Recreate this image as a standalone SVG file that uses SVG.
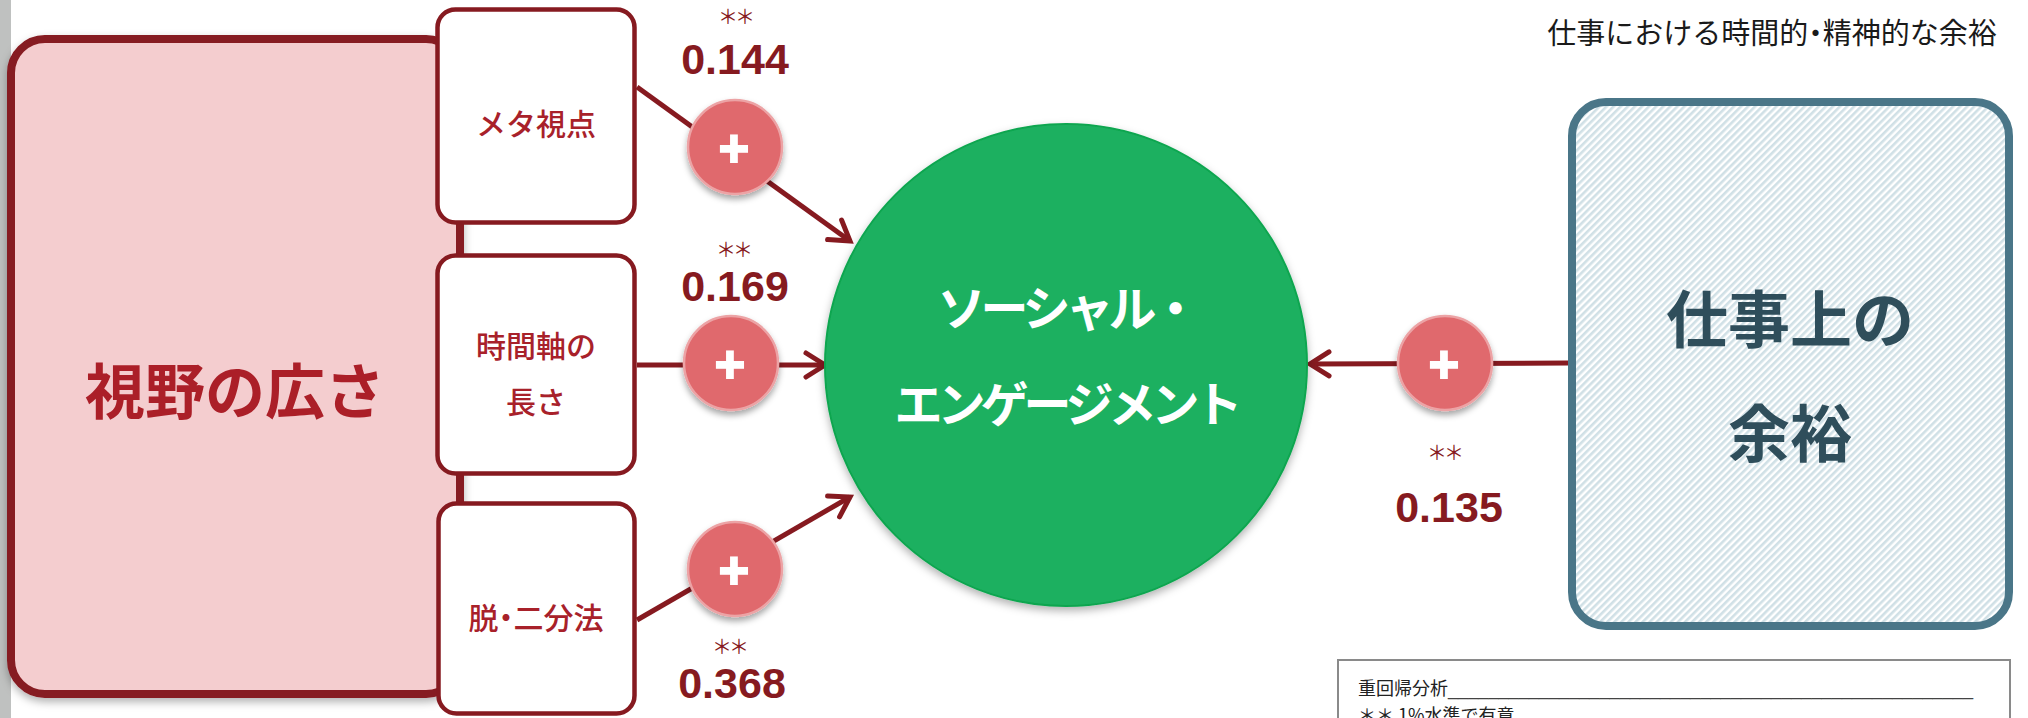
<svg xmlns="http://www.w3.org/2000/svg" width="2028" height="718" viewBox="0 0 2028 718">
<style>
.box{fill:#ffffff;stroke:#861a20;stroke-width:4.5}
.lbl{font-family:"Noto Sans CJK JP","Noto Sans",sans-serif;font-size:30px;font-weight:500;fill:#a8212a;text-anchor:middle}
.num{font-family:"Liberation Sans",Arial,sans-serif;font-weight:700;font-size:43px;fill:#861a20;text-anchor:middle}
.ast{font-family:"Noto Sans CJK JP",sans-serif;font-size:20px;fill:#861a20;text-anchor:middle;letter-spacing:-3px}
.pc{fill:#e0696d;stroke:#eca3a5;stroke-width:2.5}
.pt{font-family:"Liberation Sans",Arial,sans-serif;font-weight:700;font-size:52px;fill:#ffffff;stroke:#ffffff;stroke-width:2;text-anchor:middle}
.conn{stroke:#861a20;stroke-width:5;fill:none}
.big{font-family:"Noto Sans CJK JP",sans-serif;font-weight:700;text-anchor:middle}
.pa{font-feature-settings:"palt" 1}
</style>
<defs>
<marker id="arr" markerUnits="userSpaceOnUse" markerWidth="34" markerHeight="34" viewBox="0 0 34 34" refX="28" refY="17" orient="auto">
<path d="M9,5 L28,17 L9,29" fill="none" stroke="#861a20" stroke-width="5" stroke-linecap="round" stroke-linejoin="miter"/>
</marker>
<filter id="sh" x="-20%" y="-20%" width="140%" height="150%">
<feDropShadow dx="0" dy="4" stdDeviation="3" flood-color="#000" flood-opacity="0.35"/>
</filter>
<filter id="shs" x="-10%" y="-10%" width="120%" height="120%">
<feDropShadow dx="0" dy="4" stdDeviation="4" flood-color="#000" flood-opacity="0.3"/>
</filter>
<pattern id="hatch" patternUnits="userSpaceOnUse" width="5" height="10" patternTransform="rotate(45)">
<rect width="5" height="10" fill="#ffffff"/>
<rect width="2.6" height="10" fill="#d0e0e6"/>
</pattern>
</defs>

<rect x="0" y="0" width="11" height="718" fill="#bfc1c0"/>

<g id="node-shiya">
<rect x="11" y="39" width="449" height="655" rx="34" fill="#f4cdcf" stroke="#861a20" stroke-width="8" filter="url(#shs)"/>
<text class="big" x="235" y="414" font-size="60" fill="#ab1f28">視野の広さ</text>
</g>

<g id="node-meta">
<rect class="box" x="437.5" y="9.5" width="197" height="213" rx="18"/>
<text class="lbl" x="536" y="135">メタ視点</text>
</g>
<g id="node-jikan">
<rect class="box" x="437.5" y="255.5" width="197" height="218" rx="18"/>
<text class="lbl" x="536" y="357">時間軸の</text>
<text class="lbl" x="536" y="413">長さ</text>
</g>
<g id="node-datsu">
<rect class="box" x="438.5" y="503.5" width="196" height="210" rx="18"/>
<text class="lbl" x="536" y="629">脱<tspan class="pa">・</tspan>二分法</text>
</g>

<g id="connectors">
<path class="conn" d="M637,87 L850,241" marker-end="url(#arr)"/>
<path class="conn" d="M637,365 L825,365" marker-end="url(#arr)"/>
<path class="conn" d="M637,620 L850,497" marker-end="url(#arr)"/>
<path class="conn" d="M1568,363 L1310,364" marker-end="url(#arr)"/>
</g>

<g id="plus-1">
<circle class="pc" cx="735" cy="147" r="47" filter="url(#sh)"/>
<text class="pt" x="734" y="165.5">+</text>
</g>
<g id="plus-2">
<circle class="pc" cx="731" cy="363" r="47" filter="url(#sh)"/>
<text class="pt" x="730" y="381.5">+</text>
</g>
<g id="plus-3">
<circle class="pc" cx="735" cy="569" r="47" filter="url(#sh)"/>
<text class="pt" x="734" y="587.5">+</text>
</g>
<g id="plus-4">
<circle class="pc" cx="1445" cy="363" r="47" filter="url(#sh)"/>
<text class="pt" x="1444" y="381.5">+</text>
</g>

<g id="node-social">
<circle cx="1066" cy="365" r="241" fill="#1fb060" stroke="#0ea650" stroke-width="2" filter="url(#shs)"/>
<text class="big" x="1066" y="326" font-size="48" fill="#ffffff" letter-spacing="-5">ソーシャル・</text>
<text class="big" x="1066" y="422" font-size="48" fill="#ffffff" letter-spacing="-5">エンゲージメント</text>
</g>

<g id="node-yoyu">
<rect x="1572" y="102" width="437" height="524" rx="34" fill="url(#hatch)" stroke="#4a7688" stroke-width="8"/>
<text class="big" x="1790" y="343" font-size="62" fill="#2f4e5b">仕事上の</text>
<text class="big" x="1790" y="457" font-size="62" fill="#2f4e5b">余裕</text>
</g>

<g id="labels">
<text class="ast" x="735" y="24">＊＊</text>
<text class="num" x="735" y="74">0.144</text>
<text class="ast" x="733" y="257">＊＊</text>
<text class="num" x="735" y="301">0.169</text>
<text class="ast" x="729" y="654">＊＊</text>
<text class="num" x="732" y="698">0.368</text>
<text class="ast" x="1444" y="460">＊＊</text>
<text class="num" x="1449" y="522">0.135</text>
</g>

<text x="1772" y="44" font-family="'Noto Sans CJK JP',sans-serif" font-size="29" fill="#1a1a1a" text-anchor="middle">仕事における時間的<tspan class="pa">・</tspan>精神的な余裕</text>

<g id="note">
<rect x="1338" y="660" width="672" height="80" fill="#ffffff" stroke="#8a8a8a" stroke-width="2"/>
<text x="1358" y="695" font-family="'Noto Sans CJK JP',sans-serif" font-size="18" fill="#222">重回帰分析</text>
<text x="1448" y="695" font-family="'Liberation Sans',sans-serif" font-size="18" fill="#444" textLength="525" lengthAdjust="spacingAndGlyphs">____________________________________________________</text>
<text x="1358" y="722" font-family="'Noto Sans CJK JP',sans-serif" font-size="18" fill="#222">＊＊ 1%水準で有意</text>
</g>
</svg>
